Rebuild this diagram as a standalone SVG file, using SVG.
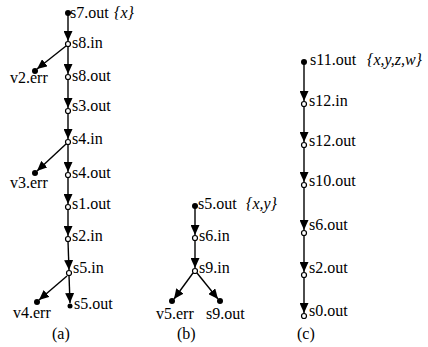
<svg xmlns="http://www.w3.org/2000/svg" width="428" height="347" viewBox="0 0 428 347">
<defs>
<marker id="ah" markerWidth="10" markerHeight="9" refX="10" refY="4.5" orient="auto" markerUnits="userSpaceOnUse">
<path d="M0,0 L10,4.5 L0,9 Z" fill="#000"/>
</marker>
<style>
.e{stroke:#000;stroke-width:1.4;fill:none}
.a{marker-end:url(#ah)}
.h{fill:#fff;stroke:#000;stroke-width:1.2}
.f{fill:#000}
</style>
</defs>
<rect width="428" height="347" fill="#fff"/>
<g id="connectors">
<line class="e a" x1="68" y1="13" x2="68" y2="41"/>
<line class="e a" x1="68" y1="46" x2="68" y2="74"/>
<line class="e a" x1="68" y1="79" x2="68" y2="108"/>
<line class="e a" x1="68" y1="113" x2="68" y2="139"/>
<line class="e a" x1="68" y1="144" x2="68" y2="172"/>
<line class="e a" x1="68" y1="177" x2="68" y2="204"/>
<line class="e a" x1="68" y1="209" x2="68" y2="236"/>
<line class="e a" x1="68" y1="241" x2="69" y2="270"/>
<line class="e a" x1="69" y1="275" x2="70" y2="303"/>
<line class="e a" x1="66" y1="46" x2="37" y2="69"/>
<line class="e a" x1="66" y1="144" x2="37" y2="171"/>
<line class="e a" x1="67" y1="276" x2="39" y2="300"/>
<line class="e a" x1="195" y1="206" x2="195" y2="235"/>
<line class="e a" x1="195" y1="240" x2="195" y2="268"/>
<line class="e a" x1="193" y1="273" x2="174" y2="299"/>
<line class="e a" x1="197" y1="273" x2="218" y2="299"/>
<line class="e a" x1="304" y1="62" x2="304" y2="101"/>
<line class="e a" x1="304" y1="106" x2="304" y2="142"/>
<line class="e a" x1="304" y1="147" x2="304" y2="182"/>
<line class="e a" x1="304" y1="187" x2="304" y2="230"/>
<line class="e a" x1="304" y1="235" x2="304" y2="272"/>
<line class="e a" x1="304" y1="277" x2="304" y2="313"/>
</g>
<g font-family="Liberation Serif, serif" font-size="16" fill="#000">
<g id="a-s7out"><circle class="f" cx="68" cy="13" r="3"/><text x="70" y="18">s7.out</text><text font-style="italic" x="114" y="18">{x}</text></g>
<g id="a-s8in"><circle class="h" cx="68" cy="44" r="2.5"/><text x="72" y="48">s8.in</text></g>
<g id="a-v2err"><circle class="f" cx="35" cy="71" r="3"/><text x="10" y="83">v2.err</text></g>
<g id="a-s8out"><circle class="h" cx="68" cy="77" r="2.5"/><text x="72" y="81">s8.out</text></g>
<g id="a-s3out"><circle class="h" cx="68" cy="111" r="2.5"/><text x="72" y="111">s3.out</text></g>
<g id="a-s4in"><circle class="h" cx="68" cy="142" r="2.5"/><text x="72" y="144">s4.in</text></g>
<g id="a-v3err"><circle class="f" cx="35" cy="173" r="3"/><text x="10" y="188">v3.err</text></g>
<g id="a-s4out"><circle class="h" cx="68" cy="175" r="2.5"/><text x="72" y="178">s4.out</text></g>
<g id="a-s1out"><circle class="h" cx="68" cy="207" r="2.5"/><text x="72" y="209">s1.out</text></g>
<g id="a-s2in"><circle class="h" cx="68" cy="239" r="2.5"/><text x="72" y="241">s2.in</text></g>
<g id="a-s5in"><circle class="h" cx="69" cy="273" r="2.5"/><text x="73" y="273">s5.in</text></g>
<g id="a-v4err"><circle class="f" cx="37" cy="302" r="3"/><text x="13" y="318">v4.err</text></g>
<g id="a-s5out"><circle class="f" cx="70" cy="306" r="2.5"/><text x="74" y="309">s5.out</text></g>
<text x="52" y="339">(a)</text>
<g id="b-s5out"><circle class="f" cx="195" cy="206" r="3"/><text x="198" y="209">s5.out</text><text font-style="italic" x="246" y="209">{x,y}</text></g>
<g id="b-s6in"><circle class="h" cx="195" cy="238" r="2.5"/><text x="199" y="241">s6.in</text></g>
<g id="b-s9in"><circle class="h" cx="195" cy="271" r="2.5"/><text x="199" y="273">s9.in</text></g>
<g id="b-v5err"><circle class="f" cx="172" cy="301" r="3"/><text x="156" y="319">v5.err</text></g>
<g id="b-s9out"><circle class="f" cx="220" cy="301" r="3"/><text x="206" y="319">s9.out</text></g>
<text x="177" y="339">(b)</text>
<g id="c-s11out"><circle class="f" cx="304" cy="62" r="3"/><text x="310" y="65">s11.out</text><text font-style="italic" x="367" y="65">{x,y,z,w}</text></g>
<g id="c-s12in"><circle class="h" cx="304" cy="104" r="2.5"/><text x="309" y="106">s12.in</text></g>
<g id="c-s12out"><circle class="h" cx="304" cy="145" r="2.5"/><text x="309" y="146">s12.out</text></g>
<g id="c-s10out"><circle class="h" cx="304" cy="185" r="2.5"/><text x="309" y="186">s10.out</text></g>
<g id="c-s6out"><circle class="h" cx="304" cy="233" r="2.5"/><text x="309" y="230">s6.out</text></g>
<g id="c-s2out"><circle class="h" cx="304" cy="275" r="2.5"/><text x="309" y="273">s2.out</text></g>
<g id="c-s0out"><circle class="h" cx="304" cy="316" r="2.5"/><text x="309" y="316">s0.out</text></g>
<text x="297" y="339">(c)</text>
</g>
</svg>
